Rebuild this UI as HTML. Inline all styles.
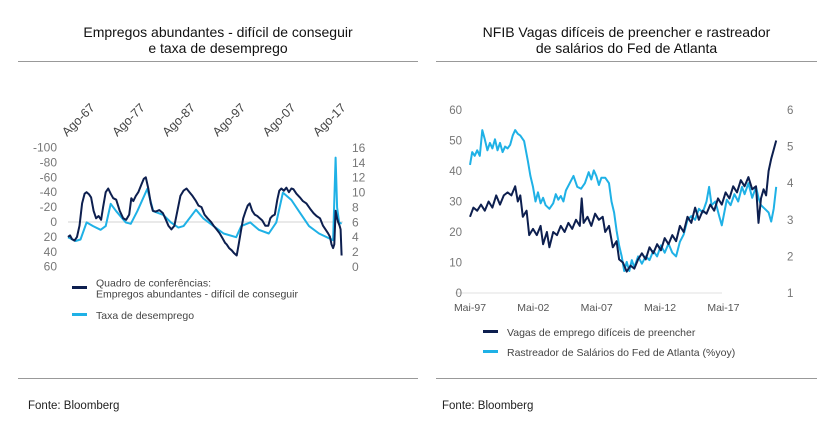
<!DOCTYPE html>
<html><head><meta charset="utf-8"><style>
body{margin:0;width:830px;height:438px;background:#fff;font-family:"Liberation Sans",sans-serif;overflow:hidden;position:relative}
.t{position:absolute;text-align:center;font-size:14px;color:#111;line-height:16px}
.hr{position:absolute;height:1px;background:#999}
.src{position:absolute;font-size:11.5px;color:#222}
svg{position:absolute;left:0;top:0}
</style></head><body>
<div class="t" style="left:18px;width:400px;top:24px">Empregos abundantes - difícil de conseguir<br>e taxa de desemprego</div>
<div class="t" style="left:436px;width:381px;top:24px">NFIB Vagas difíceis de preencher e rastreador<br>de salários do Fed de Atlanta</div>
<div class="hr" style="left:18px;width:400px;top:61px"></div>
<div class="hr" style="left:436px;width:381px;top:61px"></div>
<div class="hr" style="left:18px;width:400px;top:378px"></div>
<div class="hr" style="left:436px;width:381px;top:378px"></div>
<div class="src" style="left:28px;top:400px">Fonte: Bloomberg</div>
<div class="src" style="left:442px;top:400px">Fonte: Bloomberg</div>
<svg id="s" width="830" height="438"></svg>
<script>
// Left chart data
const leftXTicks=["Ago-67","Ago-77","Ago-87","Ago-97","Ago-07","Ago-17"];
const leftXTickYears=[1967,1977,1987,1997,2007,2017];
const leftYTicks=[-100,-80,-60,-40,-20,0,20,40,60];
const leftY2Ticks=[16,14,12,10,8,6,4,2,0];
const diffYears=[1967,1967.4,1967.8,1968.3,1968.8,1969.3,1969.8,1970.3,1970.7,1971.2,1971.6,1972.1,1972.6,1973.1,1973.6,1974,1974.5,1975,1975.5,1976,1976.6,1977.3,1978,1978.6,1979.2,1979.6,1980,1980.5,1981,1981.6,1982.1,1982.5,1983,1983.5,1983.9,1984.5,1985.2,1985.9,1986.5,1987,1987.6,1988.2,1988.8,1989.4,1990,1990.6,1991.2,1991.8,1992.5,1993,1993.6,1994.2,1994.8,1995.5,1996,1996.6,1997.2,1997.8,1998.3,1998.6,1999.1,1999.6,2000.1,2000.6,2001,2001.5,2001.9,2002.4,2002.8,2003.2,2003.7,2004.2,2004.7,2005.2,2005.7,2006.3,2006.9,2007.3,2007.7,2008.2,2008.7,2009.1,2009.5,2010,2010.5,2011,2011.5,2011.9,2012.5,2013.2,2013.8,2014.5,2015.2,2015.9,2016.5,2017.2,2017.8,2018.3,2018.8,2019.2,2019.5,2019.8,2020.05,2020.3,2020.6,2020.8,2021.1,2021.3,2021.5];
const diffVals=[20,18,23,25,20,5,-25,-38,-40,-37,-33,-15,-5,-8,-3,-20,-40,-45,-38,-32,-30,-15,-5,-3,-10,-32,-28,-35,-40,-50,-58,-60,-45,-25,-15,-14,-16,-12,-3,5,10,5,-15,-35,-42,-45,-40,-35,-28,-22,-20,-10,-5,0,5,10,15,22,28,30,35,38,42,45,30,10,-5,-15,-22,-25,-15,-10,-8,-5,-2,5,5,-5,-8,-10,-30,-42,-45,-42,-46,-40,-45,-44,-38,-33,-28,-25,-18,-12,-8,-5,5,10,15,20,30,35,30,-15,-5,0,5,10,45];
const unempYears=[1967,1968.5,1969.5,1970.7,1972,1973.5,1974.5,1975.5,1976.6,1978.5,1979.5,1980.8,1982.8,1984,1986,1987.5,1989,1990,1992.5,1994,1996,1998,2000.5,2001.5,2003.3,2005,2007,2008.5,2009.8,2011.5,2013,2015,2017,2019.8,2020.3,2020.6,2021,2021.5];
const unempVals=[4,3.5,3.7,6,5.5,5,5.5,8.5,7.5,6,5.8,7.5,10.5,7.5,7,6,5.3,5.5,7.7,6.5,5.5,4.5,4,5.5,6,5,4.5,6,10,9,7.5,5.5,4.5,3.6,14.7,8,6,5.8];
// Right chart data
const rightXTicks=["Mai-97","Mai-02","Mai-07","Mai-12","Mai-17"];
const rightXTickYears=[1997.33,2002.33,2007.33,2012.33,2017.33];
const rightYTicks=[0,10,20,30,40,50,60];
const rightY2Ticks=[1,2,3,4,5,6];
const nfibYears=[1997.33,1997.6,1997.9,1998.2,1998.5,1998.8,1999.1,1999.4,1999.7,2000.0,2000.3,2000.6,2000.9,2001.1,2001.3,2001.5,2001.8,2002.0,2002.3,2002.6,2002.9,2003.1,2003.4,2003.6,2003.9,2004.2,2004.5,2004.8,2005.1,2005.4,2005.7,2006.0,2006.15,2006.3,2006.6,2006.9,2007.2,2007.5,2007.8,2008.0,2008.3,2008.6,2008.9,2009.1,2009.4,2009.7,2010.0,2010.3,2010.6,2010.9,2011.2,2011.5,2011.8,2012.1,2012.4,2012.7,2013.0,2013.3,2013.6,2013.9,2014.2,2014.5,2014.8,2015.1,2015.4,2015.7,2016.0,2016.3,2016.6,2016.9,2017.2,2017.5,2017.8,2018.1,2018.4,2018.7,2019.0,2019.3,2019.6,2019.9,2020.1,2020.3,2020.5,2020.7,2020.9,2021.1,2021.3,2021.5];
const nfibVals=[25,28,27,29,27,30,28,32,29,32,33,32,35,30,32,25,27,19,21,19,22,16,20,15,20,19,22,20,23,21,24,22,31,23,25,22,26,24,25,20,22,15,17,11,10,7,9,8,11,13,11,15,13,16,14,18,16,19,17,22,20,25,23,28,24,27,26,29,27,31,29,33,31,35,33,37,35,38,34,35,23,31,34,32,40,44,47,50];
const wageYears=[1997.33,1997.5,1997.7,1997.9,1998.1,1998.3,1998.5,1998.7,1998.9,1999.1,1999.3,1999.5,1999.7,1999.9,2000.1,2000.3,2000.5,2000.7,2000.9,2001.1,2001.3,2001.6,2001.9,2002.1,2002.3,2002.5,2002.7,2002.9,2003.1,2003.3,2003.6,2003.9,2004.1,2004.3,2004.5,2004.7,2004.9,2005.2,2005.5,2005.8,2006.1,2006.4,2006.7,2006.9,2007.1,2007.3,2007.5,2007.7,2008.0,2008.3,2008.5,2008.7,2008.9,2009.1,2009.3,2009.5,2009.7,2009.9,2010.1,2010.3,2010.6,2010.9,2011.2,2011.5,2011.8,2012.1,2012.4,2012.7,2013.0,2013.3,2013.6,2013.9,2014.2,2014.5,2014.8,2015.1,2015.4,2015.7,2016.0,2016.2,2016.4,2016.7,2017.0,2017.2,2017.4,2017.6,2017.9,2018.2,2018.5,2018.8,2019.0,2019.3,2019.6,2019.9,2020.1,2020.3,2020.6,2020.9,2021.1,2021.3,2021.5];
const wageVals=[4.5,4.85,4.75,4.9,4.75,5.45,5.2,4.9,5.1,4.95,5.2,4.9,5.1,4.85,5.0,4.95,5.05,5.3,5.45,5.35,5.3,5.15,4.6,4.2,3.9,3.5,3.75,3.45,3.6,3.4,3.3,3.45,3.7,3.55,3.65,3.5,3.8,4.0,4.2,3.9,3.85,4.0,4.3,4.1,4.35,4.2,3.95,4.15,4.15,4.0,3.5,3.2,2.7,2.3,2.0,1.6,1.85,1.6,1.9,1.7,2.0,1.8,2.0,1.9,2.15,2.0,2.3,2.1,2.35,2.1,2.0,2.4,2.6,3.0,3.1,3.0,3.3,3.2,3.5,3.9,3.4,3.5,3.1,2.85,3.2,3.55,3.4,3.7,3.5,3.9,3.7,4.0,3.6,3.9,3.6,3.4,3.3,3.2,2.95,3.3,3.9];

const S=document.getElementById('s');const NS='http://www.w3.org/2000/svg';
function mk(t,a,txt){const e=document.createElementNS(NS,t);for(const k in a)e.setAttribute(k,a[k]);if(txt!==undefined)e.textContent=txt;S.appendChild(e);return e;}
const lx=y=>68+(y-1967)*5.02;
const ly=v=>222+v*0.745;
const ly2=v=>267-v*7.44;
const rx=y=>470+(y-1997.33)*12.67;
const ry=v=>293-v*3.05;
const ry2=v=>293-(v-1)*36.6;

let e=mk('line',{x1:68,x2:343,y1:ly(0),y2:ly(0),stroke:'#e2e2e2','stroke-width':1.5});


leftYTicks.forEach(v=>{const t=mk('text',{x:57,y:ly(v)+4,'text-anchor':'end','font-size':12,fill:'#777'},v<0?'-'+Math.abs(v):String(v));

});
leftY2Ticks.forEach(v=>{const t=mk('text',{x:352,y:ly2(v)+4,'font-size':12,fill:'#777'},String(v));

});
leftXTicks.forEach((s,i)=>{const x=lx(leftXTickYears[i])-1,y=137;const t=mk('text',{x:x,y:y,'font-size':12.5,fill:'#444',transform:`rotate(-45 ${x} ${y})`},s);

});
function line(xs,vs,fx,fy,c,name){const d=xs.map((x,i)=>(i?'L':'M')+fx(x).toFixed(1)+','+fy(vs[i]).toFixed(1)).join('');
const p=mk('path',{d:d,fill:'none',stroke:c,'stroke-width':2,'stroke-linejoin':'round'});

}
line(unempYears,unempVals,lx,ly2,'#1fb1e6','unemployment-line');
line(diffYears,diffVals,lx,ly,'#0d1f4f','jobs-plentiful-line');

e=mk('line',{x1:455,x2:722,y1:ry(0),y2:ry(0),stroke:'#e2e2e2','stroke-width':1});


rightYTicks.forEach(v=>{const t=mk('text',{x:462,y:ry(v)+4,'text-anchor':'end','font-size':11.5,fill:'#777'},String(v));

});
rightY2Ticks.forEach(v=>{const t=mk('text',{x:787,y:ry2(v)+4,'font-size':11.5,fill:'#777'},String(v));

});
rightXTicks.forEach((s,i)=>{const t=mk('text',{x:rx(rightXTickYears[i]),y:311,'text-anchor':'middle','font-size':10.5,fill:'#555'},s);

});
line(wageYears,wageVals,rx,ry2,'#1fb1e6','wage-tracker-line');
line(nfibYears,nfibVals,rx,ry,'#0d1f4f','hard-to-fill-line');

function leg(x,y,c,lines,name){const r=mk('rect',{x:x,y:y-2,width:15,height:3,fill:c});


lines.forEach((s,i)=>{const t=mk('text',{x:x+24,y:y+(i-(lines.length-1)/2)*11+4,'font-size':10.5,fill:'#444'},s);

});}
leg(72,288,'#0d1f4f',['Quadro de conferências:','Empregos abundantes - difícil de conseguir'],'legend-jobs-plentiful');
leg(72,315,'#1fb1e6',['Taxa de desemprego'],'legend-unemployment');
leg(483,332,'#0d1f4f',['Vagas de emprego difíceis de preencher'],'legend-hard-to-fill');
leg(483,352,'#1fb1e6',['Rastreador de Salários do Fed de Atlanta (%yoy)'],'legend-wage-tracker');
</script></body></html>
